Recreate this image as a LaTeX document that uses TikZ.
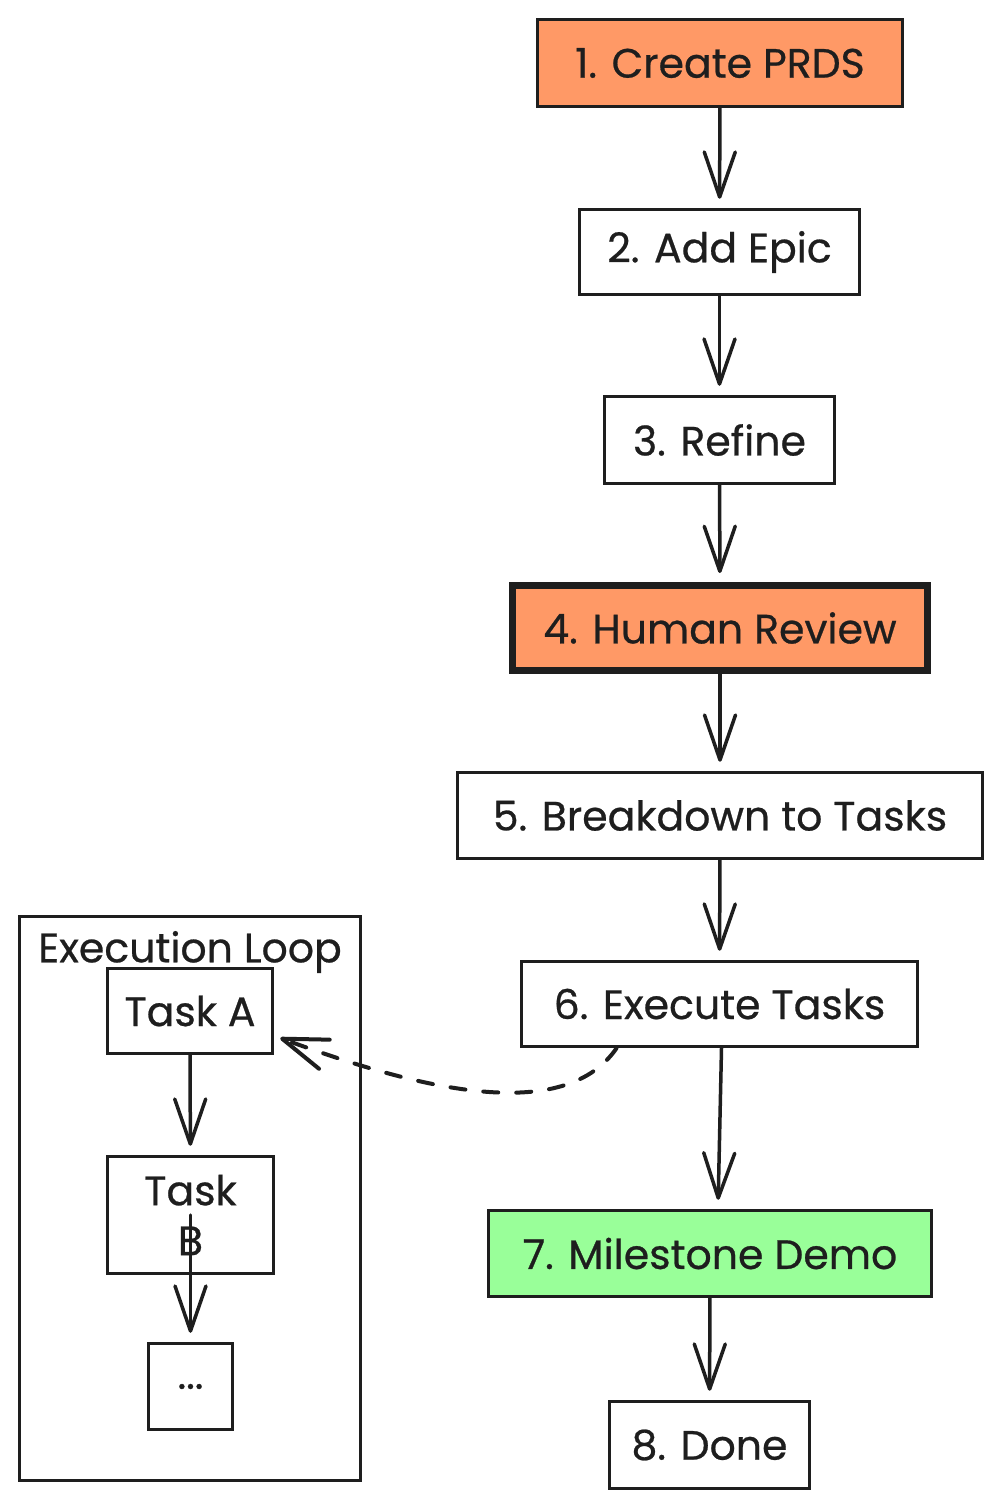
\documentclass[tikz,border=0pt]{standalone}
\usepackage{fontspec}
\newfontfamily\sketchfont{Poppins}[FakeBold=0.6]
\usetikzlibrary{arrows.meta}
\definecolor{ink}{HTML}{1E1E1E}
\definecolor{salmon}{HTML}{FF9966}
\definecolor{mint}{HTML}{99FF99}
\begin{document}
\begin{tikzpicture}[x=1pt,y=-1pt,
  stepbox/.style={draw=ink,line width=3.5pt,inner sep=0pt,align=center,font=\sketchfont\fontsize{41}{50}\selectfont,text=ink},
  lbl/.style={inner sep=0pt,font=\sketchfont\fontsize{41}{50}\selectfont,text=ink},
  arr/.style={draw=ink,line width=3.5pt,line cap=round,line join=round,-{Straight Barb[length=45pt,width=31pt,round]},shorten >=9pt}]
\fill[white] (0,0) rectangle (1002,1508);
\node[stepbox,fill=salmon,minimum width=365pt,minimum height=87pt] (prd) at (720,63) {1. Create PRDS};
\node[stepbox,minimum width=280pt,minimum height=85pt] (epic) at (719.5,252) {2. Add Epic};
\node[stepbox,minimum width=230pt,minimum height=87pt] (refine) at (719.5,440) {3. Refine};
\node[stepbox,fill=salmon,line width=7pt,minimum width=415pt,minimum height=85pt] (review) at (720,628) {4. Human Review};
\node[stepbox,minimum width=525pt,minimum height=86pt] (tasks) at (720,815.5) {5. Breakdown to Tasks};
\node[stepbox,minimum width=396pt,minimum height=85pt] (exec) at (719.5,1004) {6. Execute Tasks};
\node[stepbox,fill=mint,minimum width=443pt,minimum height=86pt] (demo) at (710,1253.5) {7. Milestone Demo};
\node[stepbox,minimum width=200pt,minimum height=87pt] (done) at (709.5,1445) {8. Done};
\foreach \a/\b in {prd/epic,epic/refine,refine/review,review/tasks,tasks/exec,demo/done} {\draw[arr] (\a) -- (\b);}
\draw[arr] ([xshift=2pt]exec.south) -- ([xshift=8pt]demo.north);
\node[stepbox,minimum width=341pt,minimum height=564pt] (loop) at (190,1198.5) {};
\node[lbl] (looplbl) at (190,952) {Execution Loop};
\node[stepbox,minimum width=165pt,minimum height=85pt] (taskA) at (190,1011) {Task A};
\node[stepbox,minimum width=166pt,minimum height=117pt] (taskB) at (190.5,1215) {Task\\B};
\node[stepbox,minimum width=84pt,minimum height=86pt] (dots) at (190.5,1386.5) {...};
\draw[arr] (taskA) -- (taskB);
\draw[arr] (taskB.center) -- (dots);
\draw[arr,line width=4pt,dash pattern=on 15pt off 18pt,shorten >=0pt] ([xshift=-103pt]exec.south) .. controls (560,1130) and (400,1082) .. ([xshift=6pt,yshift=-27pt]taskA.east);
\end{tikzpicture}
\end{document}
